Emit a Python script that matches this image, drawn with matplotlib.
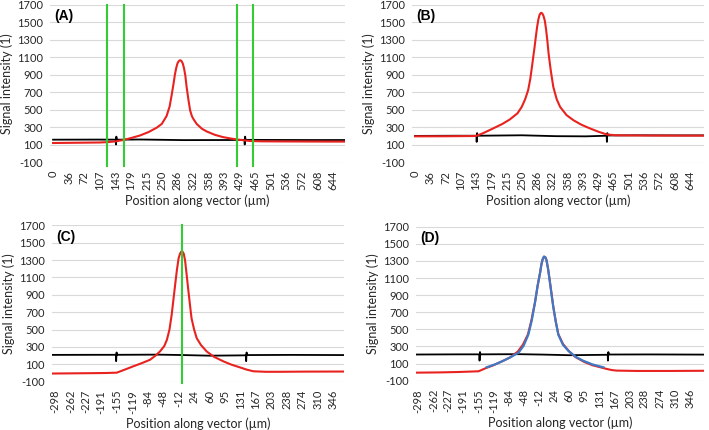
import numpy as np
import matplotlib
matplotlib.use("Agg")
import matplotlib.pyplot as plt

plt.rcParams['font.family'] = ['Lato', 'DejaVu Sans']
plt.rcParams['axes.unicode_minus'] = False

# ---- tick labels (Excel category labels) ----
xticks_ab = [0, 36, 72, 107, 143, 179, 215, 250, 286, 322, 358, 393, 429, 465,
             501, 536, 572, 608, 644]
xticks_cd = [-298, -262, -227, -191, -155, -119, -84, -48, -12, 24, 60, 95,
             131, 167, 203, 238, 274, 310, 346]
yticks = [-100, 100, 300, 500, 700, 900, 1100, 1300, 1500, 1700]

# ---- panel A ----
a_red_x = [0, 36, 72, 107, 125, 143, 163, 180, 200, 220, 238, 250, 261, 268,
           273, 277, 280, 283, 286, 289, 292, 295, 298, 301, 304, 307, 311,
           315, 319, 322, 330, 342, 353, 372, 391, 410, 422, 440, 453, 480,
           520, 580, 640, 670]
a_red_y = [122, 124, 126, 128, 132, 140, 158, 180, 208, 248, 296, 340, 430,
           540, 680, 800, 900, 975, 1030, 1055, 1065, 1058, 1030, 975, 890,
           760, 620, 495, 430, 400, 340, 285, 254, 215, 189, 172, 163, 152,
           145, 141, 140, 139, 138, 138]
a_blk_x = [0, 100, 144, 144.5, 145.5, 146.5, 200, 300, 400, 440, 440.5, 441.5,
           442.5, 500, 600, 670]
a_blk_y = [160, 161, 160, 105, 195, 160, 162, 155, 156, 158, 105, 195, 158,
           157, 156, 156]
a_green = [125, 163, 422, 460]

# ---- panel B ----
b_red_x = [0, 72, 143, 160, 183, 205, 222, 240, 250, 258, 265, 270, 274, 277,
           280, 283, 286, 289, 292, 295, 298, 301, 304, 307, 310, 313, 318,
           324, 332, 340, 355, 371, 390, 410, 430, 449, 470, 540, 620, 675]
b_red_y = [198, 199, 202, 235, 288, 340, 390, 460, 533, 620, 723, 850, 990,
           1101, 1210, 1330, 1442, 1530, 1585, 1605, 1600, 1570, 1518, 1420,
           1290, 1140, 950, 761, 620, 533, 440, 382, 330, 288, 250, 220, 210,
           207, 206, 206]
b_blk_x = [0, 100, 144, 144.5, 145.5, 146.5, 250, 330, 400, 449, 449.5, 450.5,
           451.5, 520, 600, 675]
b_blk_y = [203, 205, 205, 135, 235, 205, 210, 200, 198, 205, 135, 235, 208,
           210, 209, 209]

# ---- panel C ----
c_red_x = [-305, -260, -217, -180, -155, -135, -117, -98, -78, -65, -55, -45,
           -39, -33, -28, -24, -20, -16, -12, -9, -6, -3, 0, 3, 7, 11, 15, 18,
           24, 30, 40, 53, 70, 92, 110, 130, 145, 161, 190, 223, 280, 371]
c_red_y = [-8, -6, -4, -2, 2, 40, 75, 110, 151, 200, 247, 310, 381, 500, 668,
           840, 1012, 1180, 1318, 1370, 1398, 1400, 1375, 1300, 1120, 935, 760,
           630, 500, 400, 320, 247, 185, 132, 95, 63, 38, 18, 12, 12, 14, 15]
c_blk_x = [-305, -200, -157, -156.5, -155.5, -154.5, -60, 0, 60, 144, 144.5,
           145.5, 146.5, 250, 371]
c_blk_y = [207, 208, 208, 135, 235, 208, 210, 205, 198, 202, 135, 235, 205,
           207, 205]
c_green = [-5]

# ---- panel D ----
d_red_x = [-303, -246, -200, -155, -140, -120, -100, -80, -62, -50, -38, -30,
           -21, -15, -9, -6, -3, 0, 3, 6, 10, 16, 22, 28, 34, 45, 60, 75, 95,
           115, 135, 149, 160, 172, 220, 300, 379]
d_red_y = [-6, -3, 2, 10, 42, 80, 125, 172, 240, 320, 440, 600, 821, 1010,
           1166, 1260, 1320, 1350, 1345, 1310, 1200, 990, 770, 590, 445, 330,
           240, 175, 120, 80, 55, 37, 25, 18, 14, 14, 16]
d_fit_x = [-136, -115, -96, -78, -60, -48, -37, -29, -21, -15, -9, -6, -3, 0,
           3, 6, 10, 16, 22, 28, 34, 45, 58, 75, 93, 115, 141]
d_fit_y = [56, 92, 133, 178, 228, 310, 438, 600, 821, 1010, 1166, 1260, 1320,
           1350, 1345, 1310, 1200, 980, 764, 590, 438, 320, 248, 180, 133, 90, 56]
d_blk_x = [-303, -200, -153, -152.5, -151.5, -150.5, -60, 0, 60, 151, 151.5,
           152.5, 153.5, 250, 379]
d_blk_y = [206, 208, 208, 135, 235, 208, 210, 205, 198, 203, 135, 235, 206,
           207, 205]

RED = '#e8231f'
GREEN = '#33cc33'
BLUE = '#3f78c4'
TXT = '#262626'

fig = plt.figure(figsize=(7.09, 4.30), dpi=100)

def setup(ax, xt, xlim, letter):
    ax.set_xlim(*xlim)
    ax.set_ylim(-100, 1700)
    ax.set_yticks(yticks)
    ax.set_yticklabels([str(v) for v in yticks])
    ax.set_xticks(xt)
    ax.set_xticklabels([str(v) for v in xt], rotation=90)
    ax.tick_params(axis='both', length=0, labelsize=8, colors=TXT)
    ax.tick_params(axis='x', pad=6)
    ax.tick_params(axis='y', pad=5)
    for s in ax.spines.values():
        s.set_visible(False)
    ax.grid(axis='y', color='#d9d9d9', lw=0.8)
    ax.set_axisbelow(True)
    ax.set_xlabel('Position along vector (\u00b5m)', fontsize=9,
                  color=TXT, labelpad=3)
    ax.set_ylabel('Signal intensity (1)', fontsize=9, color=TXT, labelpad=3)
    ax.text(0.015, 0.925, letter, transform=ax.transAxes, fontsize=10,
            fontweight='bold', family='Liberation Sans', va='center', ha='left')

ax_a = fig.add_axes([50 / 709, 1 - 162.5 / 430, 295 / 709, 158 / 430])
setup(ax_a, xticks_ab, (-7, 671), '(A)')
for g in a_green:
    ax_a.plot([g, g], [-145, 1700], color=GREEN, lw=1.5, clip_on=False, zorder=4)
ax_a.plot(a_blk_x, a_blk_y, color='black', lw=1.3, zorder=2)
ax_a.plot(a_red_x, a_red_y, color=RED, lw=1.5, zorder=3)

ax_b = fig.add_axes([412 / 709, 1 - 162.5 / 430, 292 / 709, 158 / 430])
setup(ax_b, xticks_ab, (-7, 677), '(B)')
ax_b.plot(b_blk_x, b_blk_y, color='black', lw=1.3, zorder=2)
ax_b.plot(b_red_x, b_red_y, color=RED, lw=1.5, zorder=3)

ax_c = fig.add_axes([52 / 709, 1 - 381.5 / 430, 292 / 709, 156 / 430])
setup(ax_c, xticks_cd, (-305, 371), '(C)')
ax_c.plot(c_blk_x, c_blk_y, color='black', lw=1.3, zorder=2)
ax_c.plot(c_red_x, c_red_y, color=RED, lw=1.5, zorder=3)
for g in c_green:
    ax_c.plot([g, g], [-120, 1700], color=GREEN, lw=1.5, clip_on=False, zorder=4)

ax_d = fig.add_axes([416 / 709, 1 - 380.7 / 430, 288 / 709, 154 / 430])
setup(ax_d, xticks_cd, (-303, 379), '(D)')
ax_d.plot(d_blk_x, d_blk_y, color='black', lw=1.3, zorder=2)
ax_d.plot(d_red_x, d_red_y, color=RED, lw=1.5, zorder=3)
ax_d.plot(d_fit_x, d_fit_y, color=BLUE, lw=1.6, zorder=4)

fig.savefig('out.png', dpi=100)
